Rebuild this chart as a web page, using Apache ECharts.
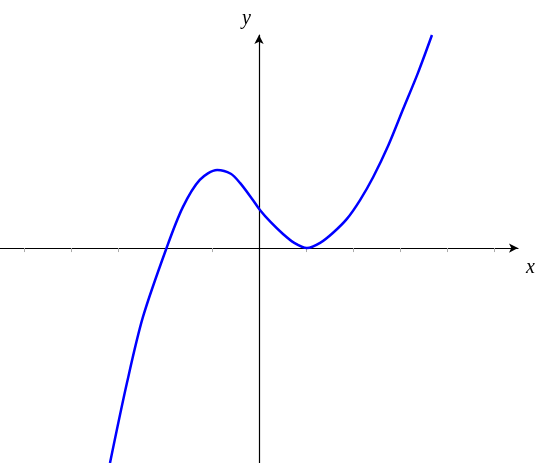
<!DOCTYPE html>
<html>
<head>
<meta charset="utf-8">
<script src="https://cdn.jsdelivr.net/npm/echarts@6/dist/echarts.min.js"></script>
<style>html,body{margin:0;padding:0;background:#fff}</style>
</head>
<body>
<div id="main" style="width:550px;height:463px"></div>
<script>
// points
const xs = [-3.17, -2.81, -2.47, -1.96, -1.62, -1.26, -0.89, -0.60, -0.40, -0.15, 0.02, 0.25, 0.51, 0.75, 1.02, 1.30, 1.57, 1.87, 2.15, 2.43, 2.75, 3.06, 3.38, 3.68]
const ys = [-4.57, -2.87, -1.47, 0.02, 0.87, 1.45, 1.66, 1.58, 1.38, 1.05, 0.81, 0.55, 0.30, 0.11, 0, 0.11, 0.32, 0.62, 1.02, 1.51, 2.18, 2.94, 3.72, 4.53]
const tickValues = [-5, -4, -3, -2, -1, 1, 2, 3, 4, 5]
const tickLabels = ['−5', '−4', '−3', '−2', '−1', '1', '2', '3', '4', '5']

const font = "'Liberation Serif', 'DejaVu Serif', serif"
const chart = echarts.init(document.getElementById('main'))

chart.setOption({
    animation: false,
    grid: { left: 0, right: 32, top: 35, bottom: 0, outerBoundsMode: 'none', containLabel: false },
    xAxis: {
        type: 'value',
        min: -5.51,
        max: 5.51,
        splitLine: { show: false },
        name: 'x',
        nameGap: 8,
        nameTextStyle: { fontFamily: font, fontStyle: 'italic', fontSize: 20, color: '#000', verticalAlign: 'top', padding: [10, 0, 0, 0] },
        axisLine: { onZero: true, symbol: ['none', 'arrow'], symbolSize: [7, 9], lineStyle: { color: '#000', width: 1.2 } },
        axisTick: { show: true, length: 4, customValues: tickValues, lineStyle: { color: '#aaa' } },
        axisLabel: {
            customValues: tickValues,
            formatter: v => tickLabels[tickValues.indexOf(v)],
            fontFamily: font, fontSize: 19, color: '#000', margin: 12
        }
    },
    yAxis: {
        type: 'value',
        min: -4.57,
        max: 4.53,
        name: 'y',
        nameGap: 6,
        nameTextStyle: { fontFamily: font, fontStyle: 'italic', fontSize: 20, color: '#000', align: 'right', padding: [0, 8, 0, 0] },
        splitLine: { show: false },
        axisTick: { show: false },
        axisLabel: { show: false },
        axisLine: { onZero: true, symbol: ['none', 'arrow'], symbolSize: [7, 9], lineStyle: { color: '#000', width: 1.2 } }
    },
    series: [{
        type: 'line',
        smooth: 0.3,
        showSymbol: false,
        data: xs.map((x, i) => [x, ys[i]]),
        lineStyle: { color: '#0000ff', width: 2.5 }
    }]
})
</script>
</body>
</html>
